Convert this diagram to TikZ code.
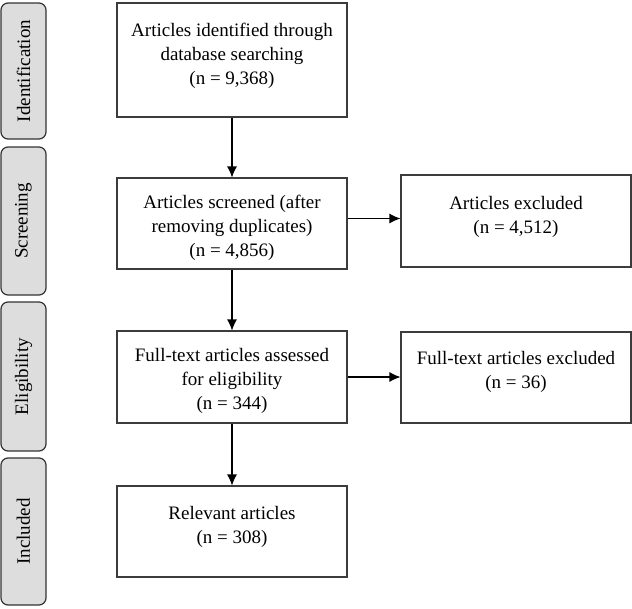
\documentclass[tikz,border=0pt]{standalone}
\usepackage{fontspec}
\setmainfont{Liberation Serif}
\usetikzlibrary{arrows.meta,positioning}
\definecolor{edge}{RGB}{60,60,60}
\definecolor{phase}{RGB}{221,221,221}

\tikzset{
  stagebox/.style={draw=edge,line width=1.1pt,minimum width=230pt,inner sep=0pt},
  stagetext/.style={align=center,inner sep=0pt,font=\fontsize{19}{24}\selectfont},
  phasebox/.style={draw=black!80,fill=phase,line width=1.2pt,rounded corners=7pt,
    minimum width=45pt,inner sep=0pt},
  phasetext/.style={rotate=90,font=\fontsize{19}{20}\selectfont},
  flow/.style={-{Latex[length=11pt,width=10pt]},line width=1.1pt}
}

\begin{document}
\begin{tikzpicture}[x=1pt,y=-1pt]
  \useasboundingbox (0,0) rectangle (632,608);

  % Phase labels on the left.
  \node[phasebox,minimum height=136pt] (pid) at (23.5,71) {};
  \node[phasetext] at (pid) {Identification};
  \node[phasebox,minimum height=148pt] (pscr) at (23.5,221) {};
  \node[phasetext] at (pscr) {Screening};
  \node[phasebox,minimum height=149pt] (pel) at (23.5,376.5) {};
  \node[phasetext] at (pel) {Eligibility};
  \node[phasebox,minimum height=147pt] (pinc) at (23.5,531.5) {};
  \node[phasetext] at (pinc) {Included};

  % Main column.
  \node[stagebox,minimum height=114pt] (ident) at (232,60) {};
  \node[stagetext,below=20pt of ident.north] {Articles identified through\\database searching\\(n = 9,368)};

  \node[stagebox,minimum height=91pt] (screen) at (232,223.5) {};
  \node[stagetext,below=17pt of screen.north] {Articles screened (after\\removing duplicates)\\(n = 4,856)};

  \node[stagebox,minimum height=92pt] (full) at (232,377) {};
  \node[stagetext,below=17.5pt of full.north] {Full-text articles assessed\\for eligibility\\(n = 344)};

  \node[stagebox,minimum height=91pt] (relevant) at (232,531.5) {};
  \node[stagetext,below=21pt of relevant.north] {Relevant articles\\(n = 308)};

  % Excluded column.
  \node[stagebox,minimum height=92pt] (excl) at (516,221) {};
  \node[stagetext,below=22pt of excl.north] {Articles excluded\\(n = 4,512)};

  \node[stagebox,minimum height=91pt] (fullexcl) at (516,377.5) {};
  \node[stagetext,below=20pt of fullexcl.north] {Full-text articles excluded\\(n = 36)};

  % Arrows.
  \draw[flow] (ident) -- (screen);
  \draw[flow] (screen) -- (full);
  \draw[flow] (full) -- (relevant);
  \draw[flow] ([yshift=5pt]screen.east) -- ([yshift=5pt]screen.east -| excl.west);
  \draw[flow] (full.east) -- (full.east -| fullexcl.west);

\end{tikzpicture}
\end{document}
